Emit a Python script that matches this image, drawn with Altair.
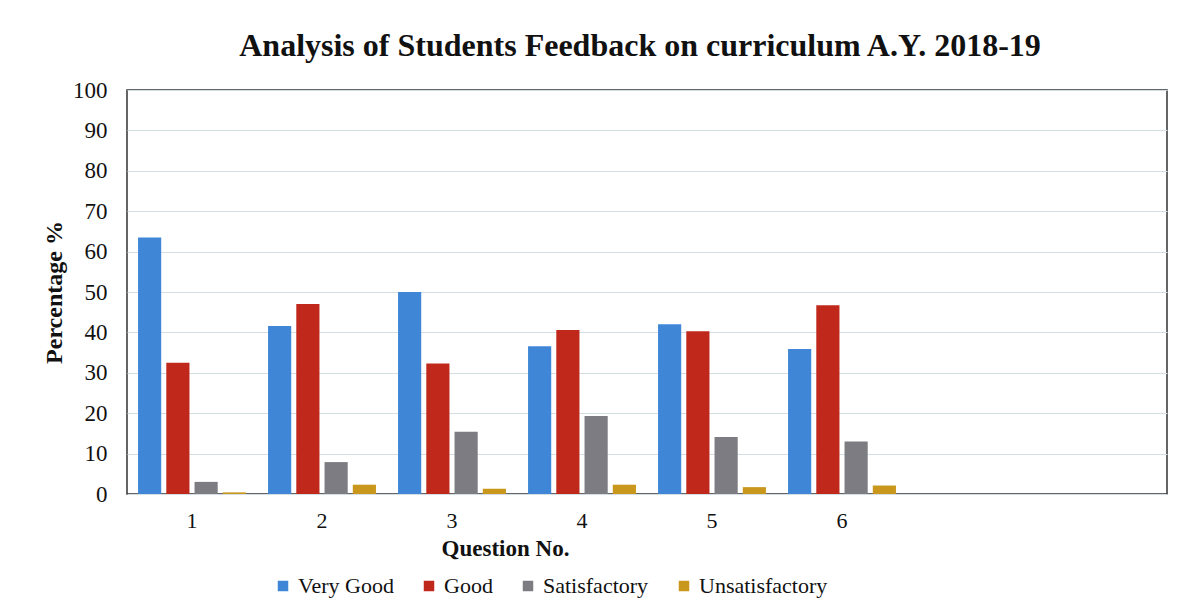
import altair as alt
import pandas as pd

questions = ["1", "2", "3", "4", "5", "6"]
all_slots = ["1", "2", "3", "4", "5", "6", "7", "8"]
ratings = ["Very Good", "Good", "Satisfactory", "Unsatisfactory"]
very_good = [63.5, 41.6, 50.0, 36.6, 42.0, 35.9]
good = [32.5, 47.0, 32.3, 40.6, 40.3, 46.7]
satisfactory = [3.0, 7.9, 15.4, 19.3, 14.1, 13.0]
unsatisfactory = [0.4, 2.3, 1.3, 2.3, 1.7, 2.1]
colors = ["#3f87d6", "#c0281c", "#7c7c82", "#c8971c"]

rows = []
for i, q in enumerate(questions):
    for r, vals in zip(ratings, [very_good, good, satisfactory, unsatisfactory]):
        rows.append({"Question": q, "Rating": r, "Value": vals[i]})
df = pd.DataFrame(rows)

serif = "Liberation Serif"

chart = alt.Chart(df).mark_bar().encode(
    x=alt.X("Question:N",
            scale=alt.Scale(domain=all_slots, paddingInner=0.17, paddingOuter=0.085),
            axis=alt.Axis(title="Question No.", labelAngle=0, ticks=False, domain=False,
                          labelFont=serif, labelFontSize=22, labelColor="#111",
                          labelPadding=16,
                          labelExpr="toNumber(datum.value) > 6 ? '' : datum.label",
                          titleFont=serif, titleFontSize=23, titleFontWeight="bold",
                          titleColor="#111", titleX=378, titleY=54,
                          titleBaseline="middle", titleAnchor="middle")),
    xOffset=alt.XOffset("Rating:N", sort=ratings,
                        scale=alt.Scale(paddingInner=0.18, paddingOuter=0)),
    y=alt.Y("Value:Q",
            scale=alt.Scale(domain=[0, 100], nice=False),
            axis=alt.Axis(title="Percentage  %", values=list(range(0, 101, 10)),
                          ticks=False, domain=False, labelPadding=20,
                          labelFont=serif, labelFontSize=23, labelColor="#111",
                          titleFont=serif, titleFontSize=24, titleFontWeight="bold",
                          titleColor="#111", titlePadding=6,
                          gridColor="#d3dfe4", gridWidth=1)),
    color=alt.Color("Rating:N", sort=ratings,
                    scale=alt.Scale(domain=ratings, range=colors),
                    legend=alt.Legend(title=None, orient="none", direction="horizontal",
                                      legendX=145, legendY=485,
                                      symbolType="square", symbolSize=110,
                                      symbolStrokeWidth=0, labelFont=serif,
                                      labelFontSize=22, labelColor="#111",
                                      columnPadding=24, labelOffset=4)),
).properties(
    width=1040,
    height=404,
    autosize=alt.AutoSizeParams(type="none"),
    padding={"left": 119, "top": 82, "right": 10, "bottom": 106},
    background="white",
    title=alt.TitleParams("Analysis of Students Feedback on curriculum A.Y. 2018-19",
                          font=serif, fontSize=32, fontWeight="bold", color="#111",
                          anchor="middle", offset=16, dx=-7),
).configure_view(
    stroke="#333", strokeWidth=1.5
)

chart.save("out.html", embed_options={"renderer": "svg", "actions": False})
